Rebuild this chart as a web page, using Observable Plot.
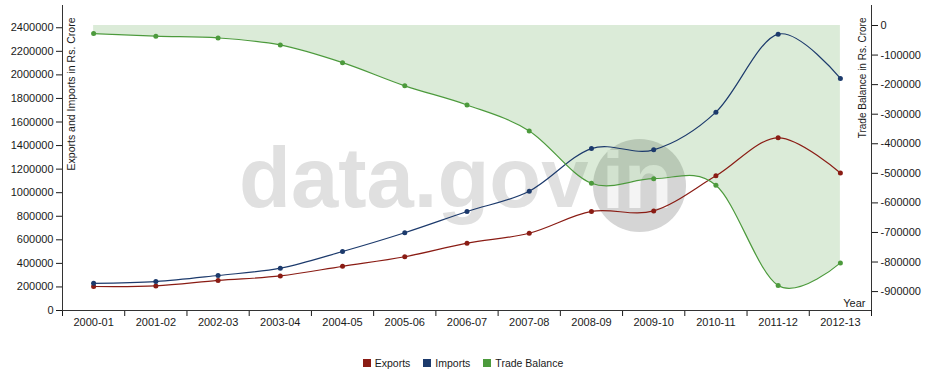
<!DOCTYPE html>
<html><head><meta charset="utf-8">
<script src="https://cdn.jsdelivr.net/npm/d3@7"></script>
<script src="https://cdn.jsdelivr.net/npm/@observablehq/plot@0.6"></script>
<style>
body{margin:0;background:#fff;font-family:Arial,"Liberation Sans",sans-serif;}
#wrap{position:relative;width:926px;height:378px;overflow:hidden;}
#wm{position:absolute;left:0;top:0;z-index:0;}
#chart{position:absolute;left:0;top:0;z-index:1;}
#legend{position:absolute;top:356px;left:0;width:926px;height:14px;display:flex;justify-content:center;align-items:center;font-size:10.5px;color:#1a1a1a;}
#legend .it{display:flex;align-items:center;margin:0 6.5px;}
#legend .sw{width:8px;height:8px;margin-right:4px;}
</style>
</head><body>
<div id="wrap">
  <svg id="wm" width="926" height="345">
    <text x="239" y="207" font-family="Arial, 'Liberation Sans', sans-serif" font-weight="bold" font-size="85" fill="#e0e0e0">data.gov</text>
    <circle cx="639.5" cy="185.5" r="46.5" fill="#d5d5d5"></circle>
    <text x="602" y="208" font-family="Arial, 'Liberation Sans', sans-serif" font-weight="bold" font-size="79" fill="#f4f4f4">in</text>
  </svg>
  <div id="chart"></div>
  <div id="legend"></div>
</div>
<script>
const years = ["2000-01","2001-02","2002-03","2003-04","2004-05","2005-06","2006-07","2007-08","2008-09","2009-10","2010-11","2011-12","2012-13"];
const exportsV = [203571,209018,255137,293367,375340,456418,571779,655864,840755,845534,1142922,1465959,1167000];
const importsV = [230873,245200,297206,359108,501065,660409,840506,1012312,1374436,1363736,1683467,2345463,1970000];
const tradeBalance = [-27302,-36182,-42069,-65741,-125725,-203991,-268727,-356448,-533681,-518202,-540545,-879504,-803000];
const leftTicks = [0,200000,400000,600000,800000,1000000,1200000,1400000,1600000,1800000,2000000,2200000,2400000];
const rightTicks = [0,-100000,-200000,-300000,-400000,-500000,-600000,-700000,-800000,-900000];
const rightTickLabels = ["0","-100000","-200000","-300000","-400000","-500000","-600000","-700000","-800000","-900000"];
const seriesNames = ["Exports","Imports","Trade Balance"];
const colors = ["#8a1c14","#1c3a6c","#4c9a3c"];

const LEFT_DOMAIN = [0, 2589000];
const RIGHT_DOMAIN = [-964000, 67700];
const tb2y = d3.scaleLinear().domain(RIGHT_DOMAIN).range(LEFT_DOMAIN);

const data = years.map((y,i)=>({i, year:y, exp:exportsV[i], imp:importsV[i], tb:tradeBalance[i]}));
const rightMap = new Map(rightTicks.map((t,k)=>[tb2y(t), rightTickLabels[k]]));
const bounds = d3.range(years.length+1).map(k=>k-0.5);
const font = "Arial, 'Liberation Sans', sans-serif";

const chart = Plot.plot({
  width:926, height:345,
  marginLeft:62, marginRight:55, marginTop:5, marginBottom:35,
  style:{background:"transparent", fontFamily:font, fontSize:"11px", color:"#1a1a1a", overflow:"visible"},
  x:{type:"linear", domain:[-0.5, years.length-0.5], label:null},
  y:{domain:LEFT_DOMAIN, nice:false, label:null},
  marks:[
    Plot.areaY(data,{x:"i", y1:()=>tb2y(0), y2:d=>tb2y(d.tb), curve:"cardinal", fill:colors[2], fillOpacity:0.2}),
    Plot.line(data,{x:"i", y:"exp", stroke:colors[0], strokeWidth:1.2, curve:"cardinal"}),
    Plot.line(data,{x:"i", y:"imp", stroke:colors[1], strokeWidth:1.2, curve:"cardinal"}),
    Plot.line(data,{x:"i", y:d=>tb2y(d.tb), stroke:colors[2], strokeWidth:1.2, curve:"cardinal"}),
    Plot.dot(data,{x:"i", y:"exp", r:2.5, fill:colors[0]}),
    Plot.dot(data,{x:"i", y:"imp", r:2.5, fill:colors[1]}),
    Plot.dot(data,{x:"i", y:d=>tb2y(d.tb), r:2.5, fill:colors[2]}),
    Plot.axisY({ticks:leftTicks, tickSize:6, tickPadding:3, tickFormat:d3.format("d"), label:null}),
    Plot.axisY({anchor:"right", ticks:rightTicks.map(t=>tb2y(t)), tickSize:6, tickPadding:3, tickFormat:d=>rightMap.get(d), label:null}),
    Plot.axisX({ticks:bounds, tickSize:6, tickFormat:()=>"", label:null}),
    Plot.axisX({ticks:d3.range(years.length), tickSize:0, tickPadding:8, tickFormat:i=>years[i], label:null}),
    Plot.ruleX([-0.5],{stroke:"#333"}),
    Plot.ruleX([years.length-0.5],{stroke:"#333"}),
    Plot.ruleY([0],{stroke:"#333"}),
    Plot.text(["Exports and Imports in Rs. Crore"],{frameAnchor:"top-left", lineAnchor:"middle", rotate:-90, textAnchor:"end", dx:9, dy:12, fontSize:10.5, fill:"#1a1a1a"}),
    Plot.text(["Trade Balance in Rs. Crore"],{frameAnchor:"top-right", lineAnchor:"middle", rotate:-90, textAnchor:"end", dx:-9, dy:12, fontSize:10, fill:"#1a1a1a"}),
    Plot.text(["Year"],{frameAnchor:"bottom-right", textAnchor:"end", dx:-6, dy:-4, fontSize:11, fill:"#1a1a1a"})
  ]
});
document.getElementById("chart").appendChild(chart);

const leg = document.getElementById("legend");
seriesNames.forEach((n,k)=>{
  const it = document.createElement("div"); it.className="it";
  const sw = document.createElement("div"); sw.className="sw"; sw.style.background=colors[k];
  const tx = document.createElement("span"); tx.textContent=n;
  it.appendChild(sw); it.appendChild(tx); leg.appendChild(it);
});
</script>
</body></html>
